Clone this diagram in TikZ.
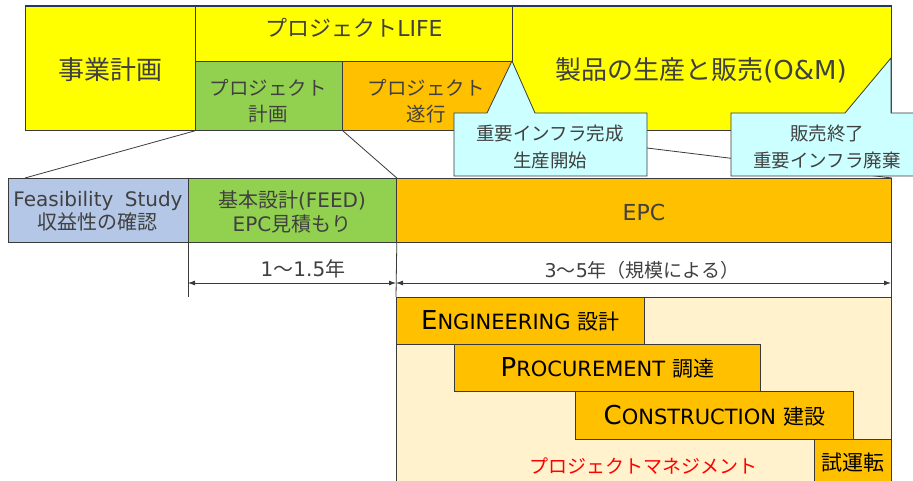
\documentclass[tikz,border=0pt]{standalone}
\usepackage{fontspec}
\setmainfont{DejaVu Sans}
\newfontfamily\jp{Noto Sans CJK JP}
\usetikzlibrary{arrows.meta}
\definecolor{yel}{HTML}{FFFF00}
\definecolor{grn}{HTML}{92D050}
\definecolor{org}{HTML}{FFC000}
\definecolor{fsb}{HTML}{B4C7E7}
\definecolor{cyn}{HTML}{CCFFFF}
\definecolor{cream}{HTML}{FFF2CC}
\definecolor{linec}{HTML}{3A3A3A}
\definecolor{txt}{HTML}{404040}
\definecolor{navy}{HTML}{1F3864}
\newcommand\fsz[2]{\fontsize{#1}{#2}\selectfont}
\begin{document}
\begin{tikzpicture}[x=1pt,y=-1pt,
  box/.style={draw=linec, line width=0.8pt, inner sep=0pt, anchor=north west},
  tx/.style={inner sep=0pt, align=center, text=txt},
  call/.style={draw=linec, line width=0.8pt, fill=cyn},
  conn/.style={draw=linec, line width=0.8pt},
  dim/.style={draw=linec, line width=0.8pt, {Latex[length=7pt,width=5pt]}-{Latex[length=7pt,width=5pt]}},
  ph/.style={box, fill=org, text=black, align=center}]
\useasboundingbox (0,0) rectangle (913,481);
\clip (0,0) rectangle (913,481);
% top row
\node[box, fill=yel, minimum width=170, minimum height=124] (jigyo) at (25,6) {};
\node[box, fill=yel, minimum width=317, minimum height=55] (life) at (195,6) {};
\node[box, fill=grn, minimum width=147, minimum height=69] (pplan) at (195,61) {};
\node[box, fill=org, minimum width=170, minimum height=69] (pexec) at (342,61) {};
\node[box, fill=yel, minimum width=379, minimum height=124] (om) at (512,6) {};
\draw[navy, line width=2pt] (jigyo.north west) -- (om.north east);
\node[tx, font=\jp\fsz{26}{30}] (jigyot) at (110,70) {事業計画};
\node[tx, font=\fsz{22}{26}] (lifet) at (354,28) {{\jp プロジェクト}LIFE};
\node[tx, font=\jp\fsz{19.5}{26.5}] (pplant) at (268,101) {プロジェクト\\計画};
\node[tx, font=\jp\fsz{19.5}{26.5}] (pexect) at (426,101) {プロジェクト\\遂行};
\node[tx, font=\fsz{26}{30}] (omt) at (701,70) {{\jp 製品の生産と販売}(O\&M)};
% second row
\node[box, fill=fsb, minimum width=180, minimum height=64] (fs) at (8,178) {};
\node[box, fill=grn, minimum width=208, minimum height=64] (feed) at (188,178) {};
\node[box, fill=org, minimum width=495, minimum height=64] (epc) at (396,178) {};
\node[tx, font=\fsz{20}{23.5}] (fst) at (98,211) {Feasibility\hspace{5pt} Study\\{\jp 収益性の確認}};
\node[tx, font=\fsz{20}{23.5}] (feedt) at (292,212) {{\jp 基本設計}(FEED)\\EPC{\jp 見積もり}};
\node[tx, font=\fsz{22}{26}] (epct) at (644,212) {EPC};
% callouts
\draw[call] (454,113) -- (487,113) -- (512,61) -- (535,113) -- (647,113) -- (647,176) -- (454,176) -- cycle;
\node[tx, font=\jp\fsz{18.5}{26.5}] (c1) at (550,147) {重要インフラ完成\\生産開始};
\coordinate (c1r) at (647,148);
\draw[conn] (c1r) -- (epc.north east);
\draw[call] (925,113) -- (891,113) -- (891,58) -- (845,113) -- (731,113) -- (731,176) -- (925,176) -- cycle;
\node[tx, font=\jp\fsz{18.5}{26.5}] (c2) at (827,147) {販売終了\\重要インフラ廃棄};
% connector lines from planning box
\coordinate (fsk) at (25,178);
\draw[conn] (pplan.south west) -- (fsk);
\draw[conn] (pplan.south east) -- (feed.north east);
% lower box
\node[box, fill=cream, minimum width=495, minimum height=200] (pm) at (396,297) {};
\node[ph, minimum width=248, minimum height=47] (eng) at (396,297) {{\fsz{26}{26}E}{\fsz{21}{21}NGINEERING}\hspace{7pt}{\jp\fsz{21}{21}設計}};
\node[ph, minimum width=306, minimum height=47] (proc) at (454,344) {{\fsz{26}{26}P}{\fsz{21}{21}ROCUREMENT}\hspace{7pt}{\jp\fsz{21}{21}調達}};
\node[ph, minimum width=278, minimum height=48] (cons) at (575,391) {{\fsz{26}{26}C}{\fsz{21}{21}ONSTRUCTION}\hspace{7pt}{\jp\fsz{21}{21}建設}};
\node[ph, minimum width=77, minimum height=46, font=\jp\fsz{21}{21}] (test) at (814,439) {試運転};
\node[tx, text=red, font=\jp\fsz{19}{19}] (pmt) at (643,466) {プロジェクトマネジメント};
% dimensions
\coordinate (d1) at (188,297);
\draw[conn] (feed.south west) -- (d1);
\draw[conn] (feed.south east) -- (pm.north west);
\draw[conn] (epc.south east) -- (pm.north east);
\coordinate (a1) at (188,283);
\coordinate (a2) at (396,283);
\coordinate (a3) at (891,283);
\draw[dim] (a1) -- (a2);
\draw[dim] (a2) -- (a3);
\node[tx, font=\fsz{20}{24}] (l1) at (303,269) {1{\jp ～}1.5{\jp 年}};
\node[tx, font=\fsz{19}{24}] (l2) at (642,270) {3{\jp ～}5{\jp 年（規模による）}};
\end{tikzpicture}
\end{document}
